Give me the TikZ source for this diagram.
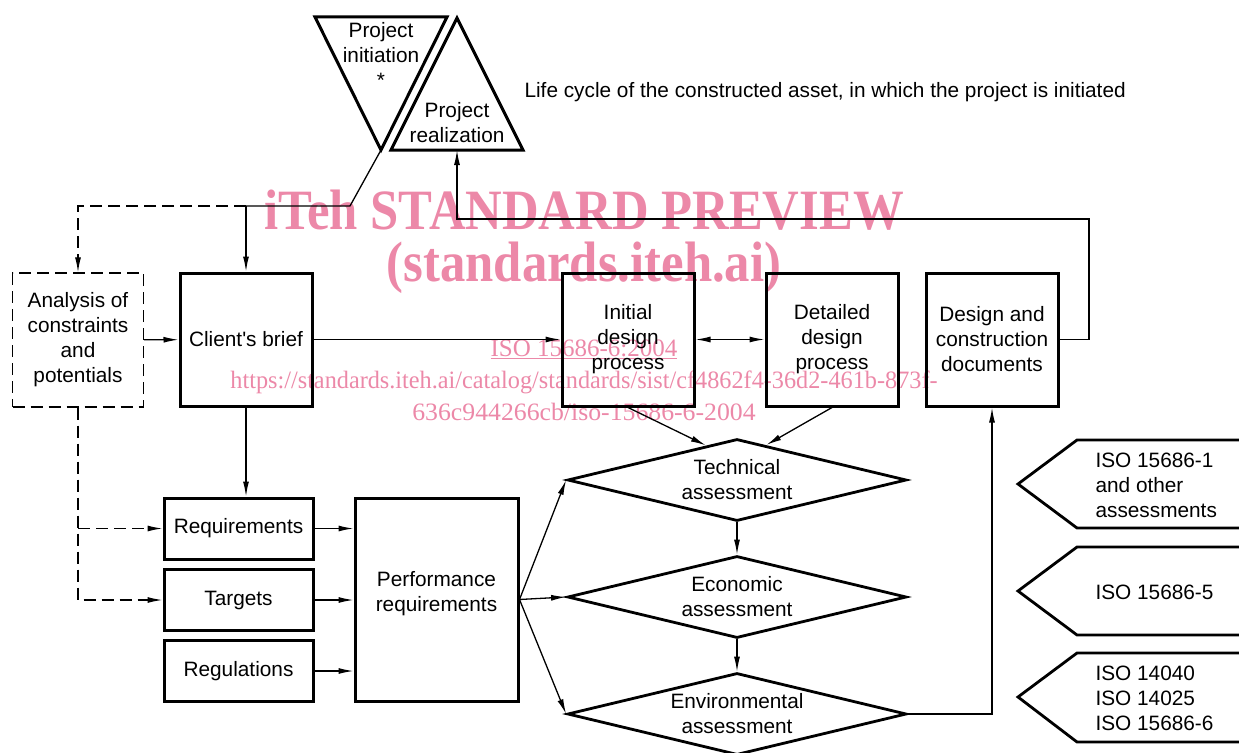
\documentclass[tikz,border=0pt]{standalone}
\usepackage{fontspec}
\setmainfont{Liberation Sans}
\newfontfamily\wmfont{Liberation Serif}
\usetikzlibrary{arrows.meta}
\usetikzlibrary{shapes.geometric}
\definecolor{wmpink}{RGB}{236,136,168}

\begin{document}
\begin{tikzpicture}[x=1pt,y=-1pt,>={Latex[length=15pt,width=6pt]},
  font=\fontsize{20.8}{25}\selectfont,
  box/.style={draw,line width=3pt,inner sep=0pt,align=center,minimum width=132pt,minimum height=133pt},
  smallbox/.style={box,minimum width=149pt,minimum height=61pt},
  dashbox/.style={draw,line width=1.4pt,dash pattern=on 12pt off 6pt,inner sep=0pt,align=center,minimum width=131pt,minimum height=134pt},
  assess/.style={draw,diamond,line width=2.8pt,aspect=4.13,inner sep=0pt,align=center,minimum width=339pt,minimum height=82pt},
  conn/.style={line width=1.3pt},
  wm/.style={text=wmpink,transform shape}]
\useasboundingbox (0,0) rectangle (1239,752);
% watermark
\node[wm,xscale=0.89] (wmtitle) at (584,210) {\wmfont\bfseries\fontsize{57}{60}\selectfont iTeh STANDARD PREVIEW};
\node[wm,xscale=0.89] (wmsite) at (584,268) {\wmfont\bfseries\fontsize{57}{60}\selectfont (standards.iteh.ai)};
\node[wm] (wmiso) at (584,349) {\wmfont\fontsize{25}{28}\selectfont\underline{ISO 15686-6:2004}};
\node[wm,xscale=0.97] (wmurl) at (584,382) {\wmfont\fontsize{25}{28}\selectfont https://standards.iteh.ai/catalog/standards/sist/cf4862f4-36d2-461b-873f-};
\node[wm,xscale=1.03] (wmurlb) at (584,412) {\wmfont\fontsize{25}{28}\selectfont 636c944266cb/iso-15686-6-2004};
% triangles
\draw[line width=3pt,line join=miter] (315,17) -- (447,17) -- (381,150) -- cycle;
\draw[line width=3pt,line join=miter] (457,18) -- (523,150) -- (391,150) -- cycle;
\coordinate (iniapex) at (381,150);
\coordinate (realbase) at (457,150);
\node[align=center] (initxt) at (381,55) {Project\\initiation\\*};
\node[align=center] (realtxt) at (457,123) {Project\\realization};
\node[anchor=west] (lifecycle) at (521,92) {Life cycle of the constructed asset, in which the project is initiated};
% boxes
\node[dashbox] (analysis) at (78,340) {Analysis of\\constraints\\and\\potentials};
\node[box] (brief) at (246,339.5) {Client\textquotesingle s brief};
\node[box] (initial) at (628,339.5) {Initial\\design\\process};
\node[box] (detailed) at (832,339.5) {Detailed\\design\\process};
\node[box] (docs) at (992,339.5) {Design and\\construction\\documents};
\node[smallbox] (req) at (238.5,528.5) {Requirements};
\node[smallbox] (targets) at (238.5,600) {Targets};
\node[smallbox] (regs) at (238.5,671) {Regulations};
\node[box,minimum width=163pt,minimum height=203pt,text depth=16pt] (perf) at (436.5,599.5) {Performance\\requirements};
\node[assess] (tech) at (737,480) {Technical\\assessment};
\node[assess] (econ) at (737,597) {Economic\\assessment};
\node[assess] (env) at (737,714) {Environmental\\assessment};
% standards
\draw[line width=2.8pt] (1245,440) -- (1077,440) -- (1018,484) -- (1077,528) -- (1245,528);
\draw[line width=2.8pt] (1245,547) -- (1077,547) -- (1018,591) -- (1077,635) -- (1245,635);
\draw[line width=2.8pt] (1245,653) -- (1077,653) -- (1018,697) -- (1077,742) -- (1245,742);
\node[anchor=west,align=left] (isoa) at (1092,485) {ISO 15686-1\\and other\\assessments};
\node[anchor=west,align=left] (isob) at (1092,592) {ISO 15686-5};
\node[anchor=west,align=left] (isoc) at (1092,698) {ISO 14040\\ISO 14025\\ISO 15686-6};
% connectors
\coordinate (bend) at (350,206);
\coordinate (split) at (246,206);
\coordinate (loop) at (1089,219);
\draw[conn] (iniapex) -- (bend) -- (split);
\draw[conn,->] (split) -- (brief.north);
\draw[conn,dash pattern=on 12pt off 6pt,->] (split) -- (split -| analysis) -- (analysis.north);
\draw[conn,->] (analysis) -- (brief);
\draw[conn,->] (brief) -- (initial);
\draw[conn,<->] (initial) -- (detailed);
\draw[conn,->] (docs.east) -| (loop) -- (loop -| realbase) -- (realbase);
\draw[conn,->] (initial.south) -- (tech.132);
\draw[conn,->] (detailed.south) -- (tech.50);
\draw[conn,->] (tech) -- (econ);
\draw[conn,->] (econ) -- (env);
\draw[conn,->] (env.east) -| (docs.south);
\draw[conn,->] (perf.east) -- (tech.west);
\draw[conn,->] (perf.east) -- (econ.west);
\draw[conn,->] (perf.east) -- (env.west);
\draw[conn,->] (brief.south) -- (brief.south |- req.north);
\draw[conn,->] (req) -- (req -| perf.west);
\draw[conn,->] (targets) -- (targets -| perf.west);
\draw[conn,->] (regs) -- (regs -| perf.west);
\draw[conn,dash pattern=on 12pt off 6pt,->] (analysis.south) |- (targets.west);
\draw[conn,dash pattern=on 12pt off 6pt,->] (analysis.south |- req.west) -- (req.west);
\end{tikzpicture}
\end{document}
